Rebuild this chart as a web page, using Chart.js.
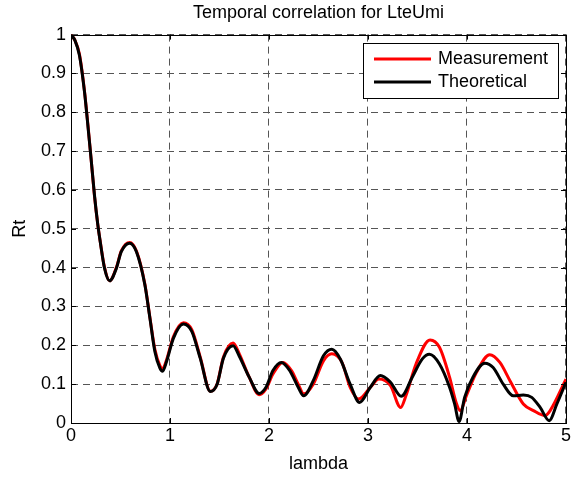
<!DOCTYPE html>
<html>
<head>
<meta charset="utf-8">
<script src="https://cdn.jsdelivr.net/npm/chart.js@4"></script>
<style>
  html, body { margin: 0; padding: 0; background: #fff; }
</style>
</head>
<body>
<canvas id="rtChart" width="573" height="477"></canvas>
<script>
// values
var lambdaTheory = [0, 0.04, 0.085, 0.136, 0.17, 0.203, 0.237, 0.271, 0.295, 0.339, 0.39, 0.458, 0.508, 0.593, 0.661, 0.746, 0.797, 0.847, 0.898, 0.925, 0.966, 1.034, 1.136, 1.22, 1.305, 1.407, 1.475, 1.54, 1.637, 1.70, 1.80, 1.90, 1.97, 2.04, 2.125, 2.21, 2.295, 2.35, 2.447, 2.55, 2.634, 2.72, 2.82, 2.915, 3.024, 3.125, 3.227, 3.336, 3.447, 3.549, 3.62, 3.722, 3.824, 3.875, 3.92, 3.976, 4.06, 4.18, 4.264, 4.366, 4.468, 4.569, 4.654, 4.739, 4.83, 4.908, 5.0];
var rtTheory = [1, 0.985, 0.947, 0.853, 0.767, 0.68, 0.587, 0.51, 0.467, 0.398, 0.366, 0.398, 0.441, 0.463, 0.441, 0.356, 0.27, 0.184, 0.141, 0.133, 0.159, 0.218, 0.255, 0.236, 0.167, 0.081, 0.099, 0.167, 0.199, 0.172, 0.118, 0.076, 0.092, 0.135, 0.156, 0.135, 0.092, 0.07, 0.109, 0.173, 0.19, 0.165, 0.1, 0.053, 0.092, 0.122, 0.105, 0.069, 0.118, 0.165, 0.177, 0.152, 0.092, 0.049, 0.004, 0.066, 0.118, 0.154, 0.143, 0.1, 0.07, 0.072, 0.066, 0.04, 0.006, 0.049, 0.105];

var lambdaMeas = [0, 0.04, 0.085, 0.136, 0.17, 0.203, 0.237, 0.271, 0.295, 0.339, 0.39, 0.458, 0.508, 0.593, 0.661, 0.746, 0.797, 0.847, 0.898, 0.925, 0.966, 1.034, 1.136, 1.22, 1.305, 1.407, 1.475, 1.54, 1.637, 1.70, 1.80, 1.90, 1.97, 2.04, 2.14, 2.227, 2.295, 2.35, 2.447, 2.55, 2.634, 2.737, 2.82, 2.905, 3.024, 3.11, 3.227, 3.33, 3.383, 3.485, 3.627, 3.722, 3.824, 3.89, 3.932, 3.993, 4.095, 4.23, 4.332, 4.434, 4.569, 4.671, 4.79, 4.84, 5.0];
var rtMeas = [1, 0.985, 0.95, 0.855, 0.77, 0.68, 0.585, 0.51, 0.468, 0.4, 0.366, 0.4, 0.443, 0.465, 0.443, 0.358, 0.272, 0.19, 0.148, 0.14, 0.163, 0.222, 0.258, 0.24, 0.17, 0.082, 0.1, 0.17, 0.206, 0.178, 0.118, 0.073, 0.088, 0.126, 0.156, 0.135, 0.1, 0.075, 0.1, 0.16, 0.178, 0.156, 0.092, 0.062, 0.092, 0.113, 0.096, 0.04, 0.07, 0.152, 0.214, 0.195, 0.118, 0.053, 0.032, 0.07, 0.13, 0.176, 0.156, 0.109, 0.049, 0.032, 0.019, 0.032, 0.113];

var seriesNames = ["Measurement", "Theoretical"];
var seriesColors = ["#ff0000", "#000000"];

function toPoints(xs, ys) {
    return xs.map(function (x, i) { return { x: x, y: ys[i] }; });
}

var FONT = "'Liberation Sans', Arial, sans-serif";

// box round the axes, inward ticks and the legend inside the plot (matlab look)
var matlabAxes = {
    id: "matlabAxes",
    afterDatasetsDraw: function (chart) {
        var ctx = chart.ctx;
        var a = chart.chartArea;
        var xs = chart.scales.x, ys = chart.scales.y;
        ctx.save();
        ctx.strokeStyle = "#000";
        ctx.lineWidth = 1;
        ctx.setLineDash([]);
        ctx.strokeRect(Math.round(a.left) + 0.5, Math.round(a.top) + 0.5,
            Math.round(a.right - a.left), Math.round(a.bottom - a.top));
        ctx.beginPath();
        xs.ticks.forEach(function (t) {
            var px = Math.round(xs.getPixelForValue(t.value)) + 0.5;
            ctx.moveTo(px, a.bottom); ctx.lineTo(px, a.bottom - 5);
            ctx.moveTo(px, a.top); ctx.lineTo(px, a.top + 5);
        });
        ys.ticks.forEach(function (t) {
            var py = Math.round(ys.getPixelForValue(t.value)) + 0.5;
            ctx.moveTo(a.left, py); ctx.lineTo(a.left + 5, py);
            ctx.moveTo(a.right, py); ctx.lineTo(a.right - 5, py);
        });
        ctx.stroke();

        // legend
        var bx = 363.5, by = 43.5, bw = 195, bh = 55;
        ctx.fillStyle = "#fff";
        ctx.fillRect(bx, by, bw, bh);
        ctx.strokeRect(bx, by, bw, bh);
        ctx.font = "18px " + FONT;
        ctx.textBaseline = "middle";
        chart.data.datasets.forEach(function (ds, i) {
            var ly = 59 + i * 23;
            ctx.strokeStyle = ds.borderColor;
            ctx.lineWidth = 3;
            ctx.beginPath();
            ctx.moveTo(374, ly); ctx.lineTo(431, ly);
            ctx.stroke();
            ctx.fillStyle = "#000";
            ctx.fillText(ds.label, 438, ly);
        });
        ctx.restore();
    }
};

var config = {
    type: "line",
    data: {
        datasets: [{
            label: seriesNames[0],
            data: toPoints(lambdaMeas, rtMeas),
            borderColor: seriesColors[0],
            borderWidth: 3,
            order: 1
        }, {
            label: seriesNames[1],
            data: toPoints(lambdaTheory, rtTheory),
            borderColor: seriesColors[1],
            borderWidth: 3,
            order: 0
        }]
    },
    options: {
        responsive: false,
        animation: false,
        devicePixelRatio: 1,
        layout: { padding: { left: 0, right: 6, top: 0, bottom: 0 } },
        elements: {
            point: { radius: 0 },
            line: { cubicInterpolationMode: "monotone", fill: false }
        },
        plugins: {
            legend: { display: false },
            tooltip: { enabled: false },
            title: {
                display: true,
                text: "Temporal correlation for LteUmi",
                color: "#000",
                font: { family: FONT, size: 18, weight: "normal" },
                padding: { top: 2, bottom: 11 },
                fullSize: false
            }
        },
        scales: {
            x: {
                type: "linear",
                min: 0, max: 5,
                ticks: { stepSize: 1, color: "#000", font: { family: FONT, size: 18 }, padding: 2, maxRotation: 0 },
                grid: { color: "#555", drawTicks: false },
                border: { display: false, dash: [7, 5] },
                title: { display: true, text: "lambda", color: "#000", font: { family: FONT, size: 18 }, padding: { top: 0, bottom: 2 } },
                afterFit: function (s) { s.height = 54; }
            },
            y: {
                min: 0, max: 1,
                ticks: {
                    stepSize: 0.1, color: "#000", font: { family: FONT, size: 18 }, padding: 5,
                    callback: function (v) { return String(Math.round(v * 10) / 10); }
                },
                grid: { color: "#555", drawTicks: false },
                border: { display: false, dash: [7, 5] },
                title: { display: true, text: "Rt", color: "#000", font: { family: FONT, size: 18 }, padding: { top: 9, bottom: 0 } },
                afterFit: function (s) { s.width = 71; }
            }
        }
    },
    plugins: [matlabAxes]
};

var rtChart = new Chart(document.getElementById("rtChart"), config);
</script>
</body>
</html>
